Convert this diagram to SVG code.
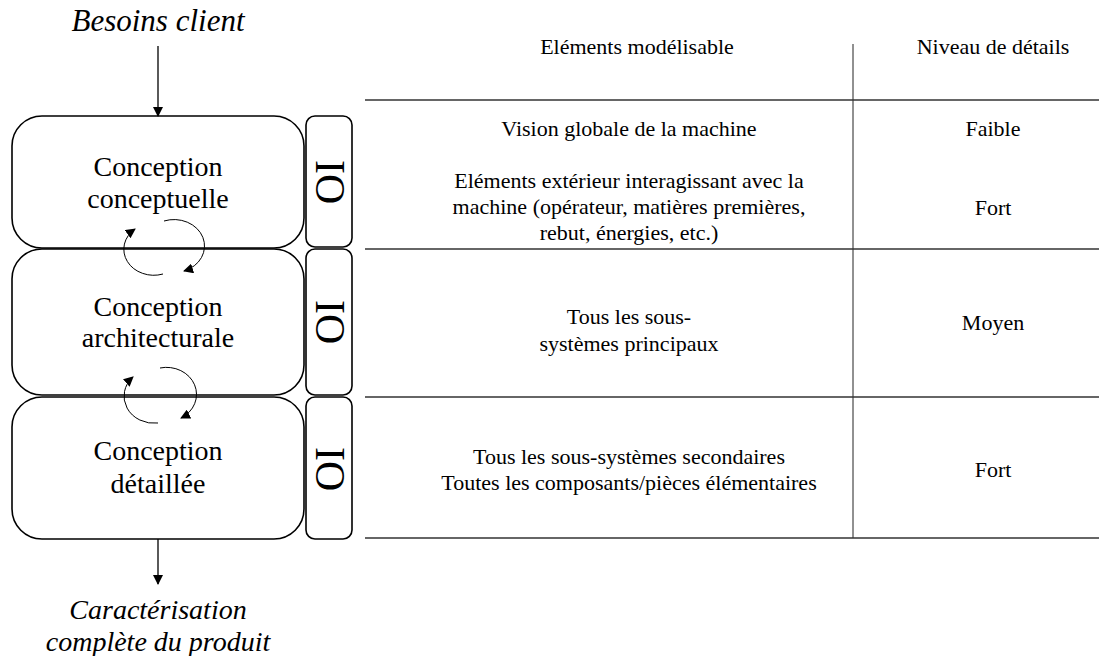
<svg xmlns="http://www.w3.org/2000/svg" width="1099" height="656" viewBox="0 0 1099 656">
<style>
text{font-family:"Liberation Serif","Times New Roman","DejaVu Serif",serif;fill:#000}
.box{fill:#fff;stroke:#000;stroke-width:1.6}
.io{font-size:42px}
.lbl{font-size:28px;text-anchor:middle}
.it{font-style:italic;font-size:28px;text-anchor:middle}
.tb{font-size:22px;text-anchor:middle}
.hl{stroke:#333;stroke-width:1.6}
.vl{stroke:#222;stroke-width:1}
.conn{fill:none;stroke:#000;stroke-width:1.3}
.cyc{fill:none;stroke:#000;stroke-width:1}
</style>
<defs>
<marker id="ah" markerWidth="10" markerHeight="10" refX="9" refY="5" orient="auto" markerUnits="userSpaceOnUse">
<path d="M0,0 L10,5 L0,10 z" fill="#000"/>
</marker>
</defs>
<rect width="1099" height="656" fill="#fff"/>

<text class="it" x="158" y="31" style="font-size:31px">Besoins client</text>

<g id="n1">
<rect class="box" x="12" y="116" width="292" height="132" rx="30"/>
<text class="lbl" x="158" y="176">Conception</text>
<text class="lbl" x="158" y="208">conceptuelle</text>
</g>
<g id="io1">
<rect class="box" x="306" y="116" width="46" height="131" rx="9"/>
<text class="io" transform="translate(316,160) rotate(90)">IO</text>
</g>

<g id="n2">
<rect class="box" x="12" y="249" width="292" height="146" rx="30"/>
<text class="lbl" x="158" y="316">Conception</text>
<text class="lbl" x="158" y="347">architecturale</text>
</g>
<g id="io2">
<rect class="box" x="306" y="249" width="46" height="146" rx="9"/>
<text class="io" transform="translate(316,300) rotate(90)">IO</text>
</g>

<g id="n3">
<rect class="box" x="12" y="397" width="292" height="142" rx="30"/>
<text class="lbl" x="158" y="460">Conception</text>
<text class="lbl" x="158" y="493">détaillée</text>
</g>
<g id="io3">
<rect class="box" x="306" y="397" width="46" height="142" rx="9"/>
<text class="io" transform="translate(316,447) rotate(90)">IO</text>
</g>

<g id="connectors">
<line class="conn" x1="158" y1="46" x2="158" y2="116" marker-end="url(#ah)"/>
<line class="conn" x1="158" y1="539" x2="158" y2="584" marker-end="url(#ah)"/>
<path class="cyc" d="M163,274 A30,26 0 0 1 135,229" marker-end="url(#ah)"/>
<path class="cyc" d="M164,221 A30,26 0 0 1 184,271" marker-end="url(#ah)"/>
<path class="cyc" d="M158,423 A30,27 0 0 1 133,377" marker-end="url(#ah)"/>
<path class="cyc" d="M160,368 A30,27 0 0 1 181,418" marker-end="url(#ah)"/>
</g>

<text class="it" x="158" y="619">Caractérisation</text>
<text class="it" x="158" y="651">complète du produit</text>

<g id="table">
<line class="vl" x1="853" y1="44" x2="853" y2="538"/>
<line class="hl" x1="365" y1="100" x2="1099" y2="100"/>
<line class="hl" x1="365" y1="249" x2="1099" y2="249"/>
<line class="hl" x1="365" y1="397" x2="1099" y2="397"/>
<line class="hl" x1="365" y1="538" x2="1099" y2="538"/>
<text class="tb" x="637" y="54">Eléments modélisable</text>
<text class="tb" x="993" y="54">Niveau de détails</text>
<text class="tb" x="629" y="136">Vision globale de la machine</text>
<text class="tb" x="993" y="136">Faible</text>
<text class="tb" x="629" y="188">Eléments extérieur interagissant avec la</text>
<text class="tb" x="629" y="214">machine (opérateur, matières premières,</text>
<text class="tb" x="629" y="240">rebut, énergies, etc.)</text>
<text class="tb" x="993" y="215">Fort</text>
<text class="tb" x="629" y="324">Tous les sous-</text>
<text class="tb" x="629" y="351">systèmes principaux</text>
<text class="tb" x="993" y="330">Moyen</text>
<text class="tb" x="629" y="464">Tous les sous-systèmes secondaires</text>
<text class="tb" x="629" y="490">Toutes les composants/pièces élémentaires</text>
<text class="tb" x="993" y="477">Fort</text>
</g>
</svg>
